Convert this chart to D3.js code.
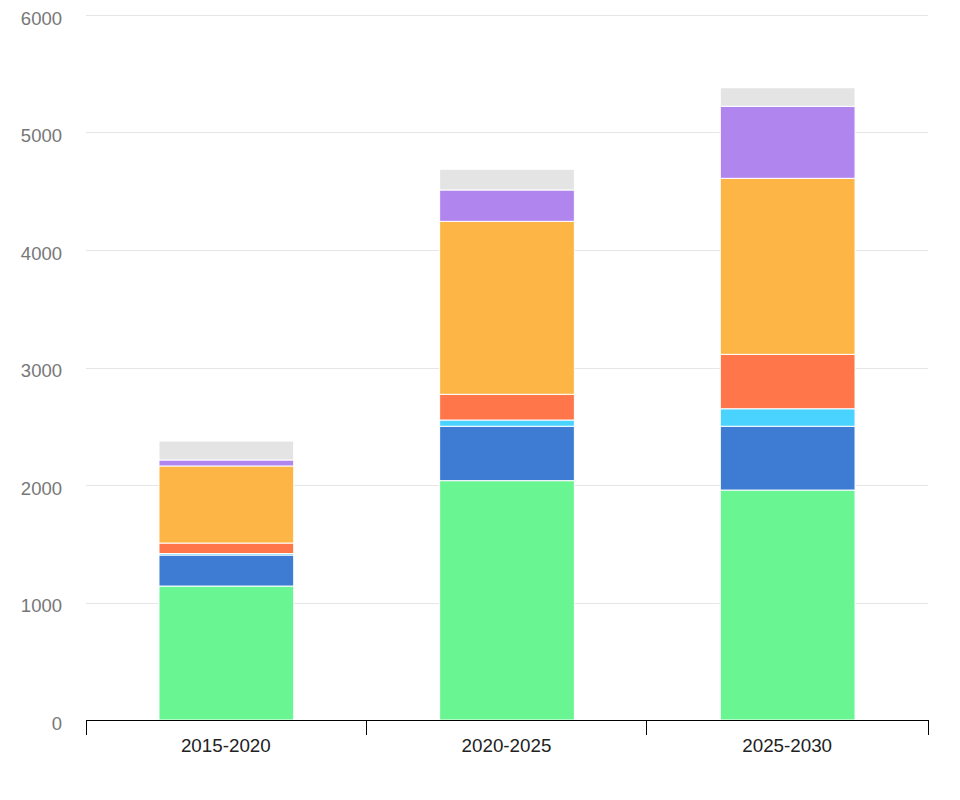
<!DOCTYPE html>
<html><head><meta charset="utf-8">
<script src="https://cdn.jsdelivr.net/npm/d3@7"></script>
<style>body{margin:0;background:#fff;font-family:"Liberation Sans",Arial,sans-serif;}</style>
</head><body><svg id="c" width="960" height="800"></svg>
<script>
const categories = ["2015-2020","2020-2025","2025-2030"];
const seriesNames = ["s1","s2","s3","s4","s5","s6","s7"];
const s1 = [1140, 2037, 1957];
const s2 = [264, 463, 543];
const s3 = [13, 53, 149];
const s4 = [89, 219, 463];
const s5 = [656, 1472, 1498];
const s6 = [51, 267, 613];
const s7 = [161, 176, 158];
const colors = ["#69F591","#3E7BD2","#4AD3FF","#FF764B","#FDB645","#B185EE","#E4E4E4"];
const yTicks = [0,1000,2000,3000,4000,5000,6000];

(function(){
const series = [s1,s2,s3,s4,s5,s6,s7];
const rows = categories.map((c,i)=>{const r={cat:c}; seriesNames.forEach((n,j)=>r[n]=series[j][i]); return r;});
const stack = d3.stack().keys(seriesNames)(rows);

const svg = d3.select("#c");
const mL=86, mR=928, mT=15, mB=720;
const x = d3.scaleBand().domain(categories).range([mL,mR]).padding(0);
const y = d3.scaleLinear().domain([0,6000]).range([mB,mT]);

svg.append("g").selectAll("line").data(yTicks.slice(1)).join("line")
  .attr("x1",mL).attr("x2",mR).attr("y1",d=>Math.round(y(d))+0.5).attr("y2",d=>Math.round(y(d))+0.5)
  .attr("stroke","#e6e6e6").attr("stroke-width",1);
svg.append("g").selectAll("text").data(yTicks).join("text")
  .attr("x",62).attr("y",d=>y(d)+9.5).attr("text-anchor","end")
  .attr("font-size",18.5).attr("fill","#777").text(d=>d);

const bw = x.bandwidth()*0.48;
svg.append("g").selectAll("g").data(stack).join("g").attr("fill",(d,i)=>colors[i])
  .selectAll("rect").data(d=>d).join("rect")
  .attr("x",d=>x(d.data.cat)+(x.bandwidth()-bw)/2).attr("width",bw)
  .attr("y",d=>y(d[1])).attr("height",d=>y(d[0])-y(d[1]))
  .attr("stroke","#fff").attr("stroke-width",1);

const ax = svg.append("g");
ax.append("line").attr("x1",mL).attr("x2",mR).attr("y1",mB+0.5).attr("y2",mB+0.5).attr("stroke","#000");
const bounds = [x(categories[0]), 365, 647, mR];
ax.selectAll("line.t").data(categories.map((c,i)=>i===0?x(c):x(c)-1).concat([mR])).join("line").attr("class","t")
  .attr("x1",d=>Math.round(d)+0.5).attr("x2",d=>Math.round(d)+0.5).attr("y1",mB).attr("y2",mB+15).attr("stroke","#000");
ax.selectAll("text").data(categories).join("text")
  .attr("x",d=>x(d)+x.bandwidth()/2-0.5).attr("y",752.3).attr("text-anchor","middle")
  .attr("font-size",18.8).attr("fill","#222").text(d=>d);
})();
</script></body></html>
